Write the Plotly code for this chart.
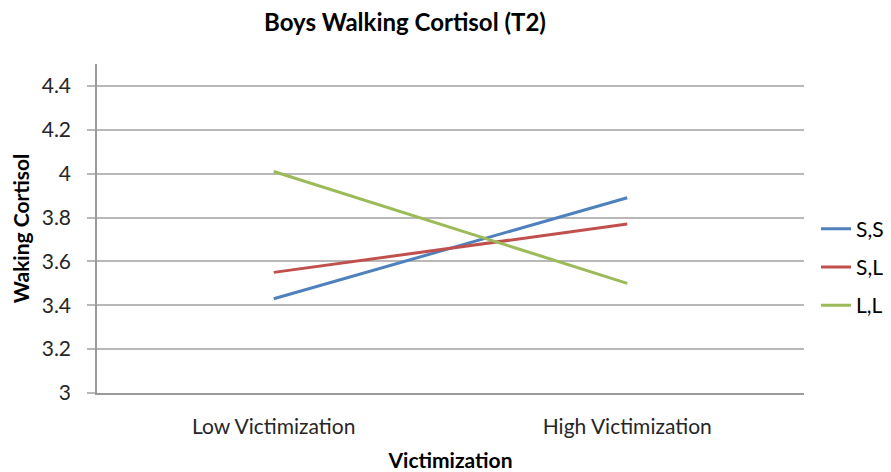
import plotly.graph_objects as go

categories = ["Low Victimization", "High Victimization"]
series_names = ["S,S", "S,L", "L,L"]
ss_values = [3.43, 3.89]
sl_values = [3.55, 3.77]
ll_values = [4.01, 3.50]
colors = ["#4F81BD", "#C0504D", "#9BBB59"]
y_ticks = [3, 3.2, 3.4, 3.6, 3.8, 4, 4.2, 4.4]
y_tick_labels = ["3", "3.2", "3.4", "3.6", "3.8", "4", "4.2", "4.4"]

FONT = "Lato"
FS = 21

fig = go.Figure()
for name, vals, col in zip(series_names, [ss_values, sl_values, ll_values], colors):
    fig.add_trace(go.Scatter(
        x=categories, y=vals, mode="lines", name=name,
        line=dict(color=col, width=3), legendgroup=name,
    ))

W, H = 891, 472
ml, mr, mt, mb = 97, 87, 64, 79

fig.update_layout(
    width=W, height=H,
    margin=dict(l=ml, r=mr, t=mt, b=mb, autoexpand=False),
    paper_bgcolor="white", plot_bgcolor="white",
    font=dict(family=FONT, size=FS, color="#262626"),
    title=dict(text="<b>Boys Walking Cortisol (T2)</b>", x=405 / W, xref="container",
               xanchor="center", y=1 - 23 / H, yref="container", yanchor="middle",
               font=dict(family=FONT, size=24, color="#000000")),
    legend=dict(x=1.017, xanchor="left", y=(H - mb - 267) / (H - mt - mb), yanchor="middle",
                font=dict(family=FONT, size=FS, color="#000000"),
                tracegroupgap=8, bgcolor="rgba(0,0,0,0)"),
    showlegend=True,
)

fig.update_xaxes(
    type="category", range=[-0.5, 1.5], automargin=False,
    showline=True, linecolor="#9A9A9A", linewidth=1.5,
    showgrid=False, ticks="", ticklabelstandoff=14,
    tickfont=dict(family=FONT, size=FS, color="#262626"),
    title=dict(text="<b>Victimization</b>", font=dict(family=FONT, size=FS, color="#000000"), standoff=18),
)
fig.update_yaxes(
    range=[3, 4.5], tickvals=y_ticks, ticktext=y_tick_labels, automargin=False,
    showline=True, linecolor="#9A9A9A", linewidth=1.5,
    showgrid=True, gridcolor="#B8B8B8", gridwidth=1.5, zeroline=False,
    ticks="outside", ticklen=8, tickcolor="#B8B8B8", tickwidth=1.5,
    ticklabelstandoff=12,
    tickfont=dict(family=FONT, size=FS, color="#262626"),
    title=dict(text="<b>Waking Cortisol</b>", font=dict(family=FONT, size=FS, color="#000000"), standoff=6),
)

fig.write_html("out.html", config={"displayModeBar": False},
               post_script="document.body.style.margin='0';")
